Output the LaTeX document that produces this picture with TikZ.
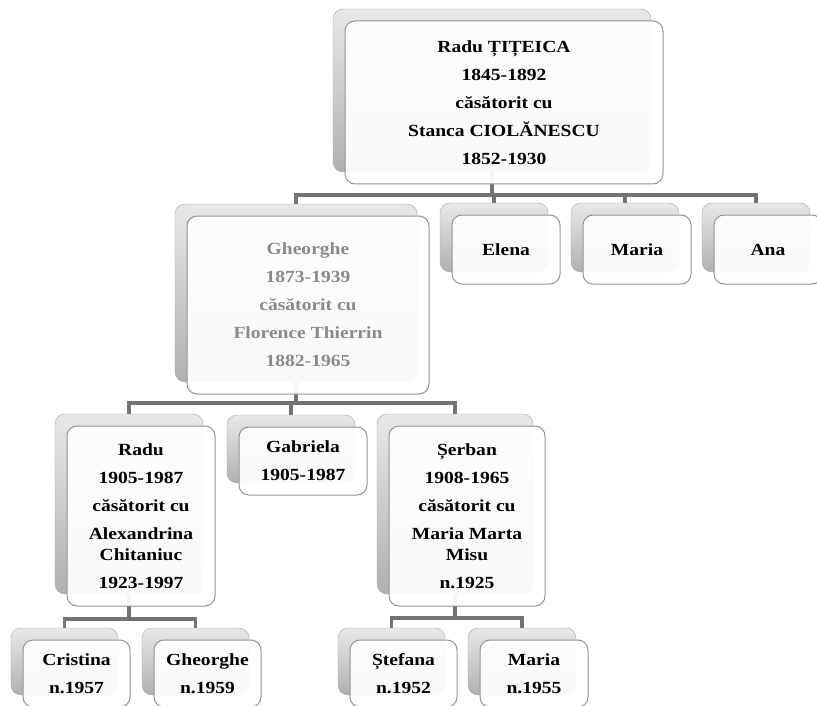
\documentclass[tikz,border=0pt]{standalone}
\usepackage{fontspec}
\setmainfont{Liberation Serif}[FakeStretch=1.15]
\usepackage{tikz}
\usetikzlibrary{positioning,backgrounds}
\definecolor{linegray}{RGB}{115,115,115}
\definecolor{textgray}{RGB}{138,138,138}
\tikzset{
	backbox/.style  = {rectangle, rounded corners=10pt, draw=gray!70, thin,
		top color=gray!18, bottom color=gray!62, inner sep=0pt, outer sep=0pt,
		anchor=north west},
	frontbox/.style = {rectangle, rounded corners=10pt, draw=gray!85, line width=1pt,
		fill=white, fill opacity=0.93, text opacity=1, align=center,
		inner sep=0pt, outer sep=0pt,
		font=\bfseries\fontsize{17}{21}\selectfont},
	link/.style     = {draw=linegray, line width=3.2pt}
}

\begin{document}
\begin{tikzpicture}[x=1pt, y=1pt]
	\path[use as bounding box] (0,0) rectangle (817,-706);
	\clip (0,0) rectangle (817,-706);
	
	% back shapes, level 1 and 2
	\node[backbox, minimum width=318pt, minimum height=163pt] (top-b) at (333,-9) {};
	\node[backbox, minimum width=242pt, minimum height=178pt] (gheorghe-b) at (175,-204) {};
	\node[backbox, minimum width=108pt, minimum height=69pt] (elena-b) at (440,-203) {};
	\node[backbox, minimum width=108pt, minimum height=69pt] (maria-b) at (571,-203) {};
	\node[backbox, minimum width=108pt, minimum height=69pt] (ana-b) at (702,-203) {};
	% back shapes, level 3
	\node[backbox, minimum width=148pt, minimum height=180pt] (radu-b) at (55,-414) {};
	\node[backbox, minimum width=128pt, minimum height=68pt] (gabriela-b) at (227,-415) {};
	\node[backbox, minimum width=156pt, minimum height=180pt] (serban-b) at (377,-414) {};
	% back shapes, level 4
	\node[backbox, minimum width=107pt, minimum height=67pt] (cristina-b) at (11,-628) {};
	\node[backbox, minimum width=107pt, minimum height=67pt] (gheorghe2-b) at (142,-628) {};
	\node[backbox, minimum width=107pt, minimum height=67pt] (stefana-b) at (338,-628) {};
	\node[backbox, minimum width=108pt, minimum height=67pt] (maria2-b) at (468,-628) {};
	
	% front boxes with the names
	\node[frontbox, minimum width=318pt, minimum height=163pt,
		below right=12pt and 12pt of top-b.north west] (top)
		{Radu ȚIȚEICA\\[7pt]1845-1892\\[7pt]căsătorit cu\\[7pt]Stanca CIOLĂNESCU\\[7pt]1852-1930};
	\node[frontbox, text=textgray, minimum width=242pt, minimum height=178pt,
		below right=12pt and 12pt of gheorghe-b.north west] (gheorghe)
		{Gheorghe\\[7pt]1873-1939\\[7pt]căsătorit cu\\[7pt]Florence Thierrin\\[7pt]1882-1965};
	\node[frontbox, minimum width=108pt, minimum height=69pt,
		below right=12pt and 12pt of elena-b.north west] (elena) {Elena};
	\node[frontbox, minimum width=108pt, minimum height=69pt,
		below right=12pt and 12pt of maria-b.north west] (maria) {Maria};
	\node[frontbox, minimum width=108pt, minimum height=69pt,
		below right=12pt and 12pt of ana-b.north west] (ana) {Ana};
	\node[frontbox, minimum width=148pt, minimum height=180pt,
		below right=12pt and 12pt of radu-b.north west] (radu)
		{Radu\\[7pt]1905-1987\\[7pt]căsătorit cu\\[7pt]Alexandrina\\Chitaniuc\\[7pt]1923-1997};
	\node[frontbox, minimum width=128pt, minimum height=68pt,
		below right=12pt and 12pt of gabriela-b.north west] (gabriela)
		{Gabriela\\[7pt]1905-1987};
	\node[frontbox, minimum width=156pt, minimum height=180pt,
		below right=12pt and 12pt of serban-b.north west] (serban)
		{Șerban\\[7pt]1908-1965\\[7pt]căsătorit cu\\[7pt]Maria Marta\\Misu\\[7pt]n.1925};
	\node[frontbox, minimum width=107pt, minimum height=67pt,
		below right=12pt and 12pt of cristina-b.north west] (cristina)
		{Cristina\\[7pt]n.1957};
	\node[frontbox, minimum width=107pt, minimum height=67pt,
		below right=12pt and 12pt of gheorghe2-b.north west] (gheorghe2)
		{Gheorghe\\[7pt]n.1959};
	\node[frontbox, minimum width=107pt, minimum height=67pt,
		below right=12pt and 12pt of stefana-b.north west] (stefana)
		{Ștefana\\[7pt]n.1952};
	\node[frontbox, minimum width=108pt, minimum height=67pt,
		below right=12pt and 12pt of maria2-b.north west] (maria2)
		{Maria\\[7pt]n.1955};
	
	% connectors, behind the boxes
	\begin{pgfonlayer}{background}
		\foreach \kid in {gheorghe,elena,maria,ana}
		\draw[link] (top-b.south) -- ++(0,-23) -| (\kid-b.north);
		\foreach \kid in {radu,gabriela,serban}
		\draw[link] (gheorghe-b.south) -- ++(0,-21) -| (\kid-b.north);
		\foreach \kid in {cristina,gheorghe2}
		\draw[link] (radu-b.south) -- ++(0,-25) -| (\kid-b.north);
		\foreach \kid in {stefana,maria2}
		\draw[link] (serban-b.south) -- ++(0,-24) -| (\kid-b.north);
	\end{pgfonlayer}
\end{tikzpicture}
\end{document}
